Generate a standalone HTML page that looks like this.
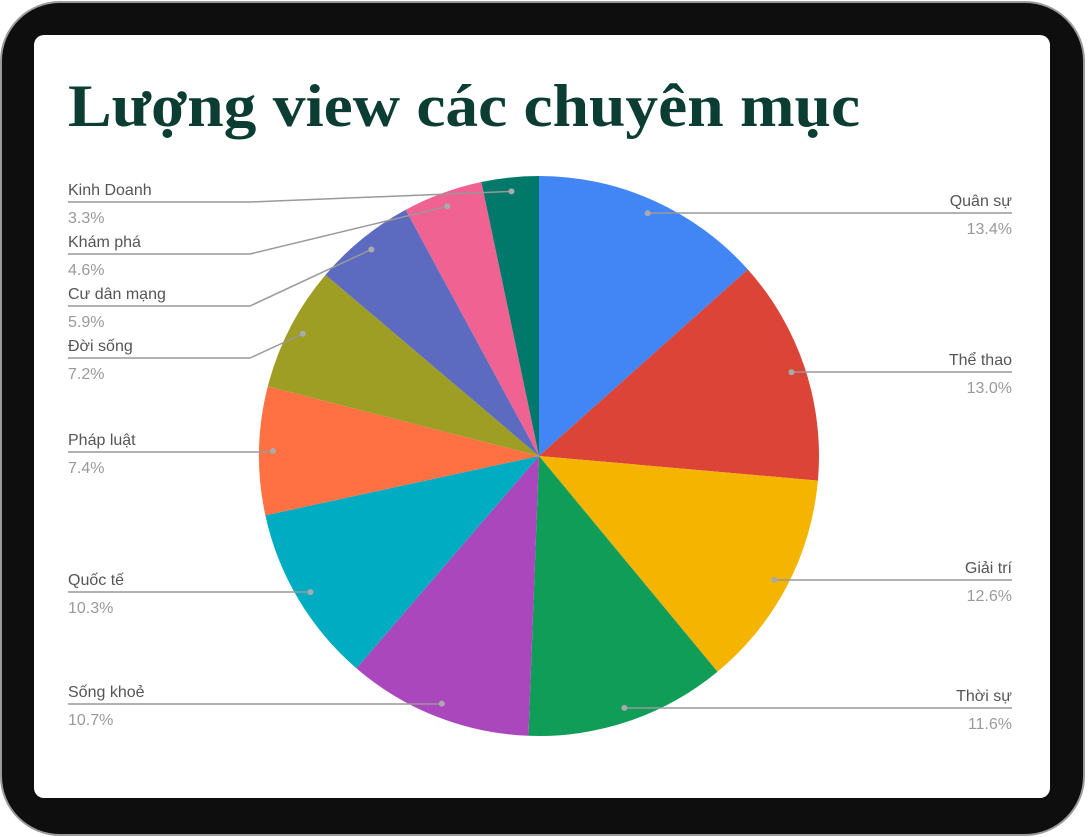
<!DOCTYPE html>
<html><head><meta charset="utf-8">
<style>
html,body{margin:0;padding:0;background:#fff;}
body{width:1088px;height:837px;overflow:hidden;position:relative;}
.frame{position:absolute;left:2px;top:3px;width:1081px;height:831px;border-radius:58px;background:#0e0e0e;box-shadow:0 0 0 2px #9a9a9a;}
.screen{position:absolute;left:34px;top:35px;width:1016px;height:763px;border-radius:10px;background:#fff;overflow:hidden;}
svg{position:absolute;left:0;top:0;}
</style></head>
<body>
<div class="frame"></div>
<div class="screen"></div>
<svg id="chart" width="1088" height="837">
<text x="68" y="126" font-family="'Liberation Serif','Noto Serif CJK SC',serif" font-weight="bold" font-size="60" fill="#0b3d33" textLength="792" lengthAdjust="spacingAndGlyphs">Lượng view các chuyên mục</text>
</svg>
<script>
const categories=["Quân sự","Thể thao","Giải trí","Thời sự","Sống khoẻ","Quốc tế","Pháp luật","Đời sống","Cư dân mạng","Khám phá","Kinh Doanh"];
const values=[13.4,13.0,12.6,11.6,10.7,10.3,7.4,7.2,5.9,4.6,3.3];
const colors=["#4285f4","#db4437","#f4b400","#0f9d58","#ab47bc","#00acc1","#ff7043","#9e9d24","#5c6bc0","#f06292","#00796b"];
const labelY=[213,372,580,708,704,592,452,358,306,254,202];
const svg=document.getElementById('chart');
const NS='http://www.w3.org/2000/svg';
const cx=539,cy=456,R=280,rd=266;
const total=values.reduce((a,b)=>a+b,0);
function pt(a,r){return [cx+r*Math.sin(a),cy-r*Math.cos(a)];}
let acc=0;
const g=document.createElementNS(NS,'g');svg.appendChild(g);
const lg=document.createElementNS(NS,'g');svg.appendChild(lg);
values.forEach((v,i)=>{
  const a0=acc/total*2*Math.PI; acc+=v; const a1=acc/total*2*Math.PI;
  const p0=pt(a0,R),p1=pt(a1,R);
  const large=(a1-a0)>Math.PI?1:0;
  const p=document.createElementNS(NS,'path');
  p.setAttribute('d',`M${cx},${cy}L${p0[0]},${p0[1]}A${R},${R} 0 ${large} 1 ${p1[0]},${p1[1]}Z`);
  p.setAttribute('fill',colors[i]);
  
  
  g.appendChild(p);
  const am=(a0+a1)/2; const d=pt(am,rd);
  const right=Math.sin(am)>0; const ly=labelY[i];
  let pts;
  if(right){pts=`${d[0]},${d[1]} ${Math.max(d[0]+5,d[0])},${ly} 1012,${ly}`;}
  else{const knee=Math.abs(d[1]-ly)<6?d[0]:250; pts=`68,${ly} ${knee},${ly} ${d[0]},${d[1]}`;}
  const pl=document.createElementNS(NS,'polyline');
  pl.setAttribute('points',pts);pl.setAttribute('fill','none');pl.setAttribute('stroke','#999');pl.setAttribute('stroke-width','1.5');
  
  
  lg.appendChild(pl);
  const c=document.createElementNS(NS,'circle');
  c.setAttribute('cx',d[0]);c.setAttribute('cy',d[1]);c.setAttribute('r','3');c.setAttribute('fill','#aaa');
  
  
  lg.appendChild(c);
  const x=right?1012:68, anchor=right?'end':'start';
  const t1=document.createElementNS(NS,'text');
  t1.setAttribute('x',x);t1.setAttribute('y',ly-7);t1.setAttribute('text-anchor',anchor);
  t1.setAttribute('font-family',"'Liberation Sans','Noto Sans CJK SC',sans-serif");t1.setAttribute('font-size','16');t1.setAttribute('fill','#555');
  t1.textContent=categories[i];
  
  
  lg.appendChild(t1);
  const t2=document.createElementNS(NS,'text');
  t2.setAttribute('x',x);t2.setAttribute('y',ly+21);t2.setAttribute('text-anchor',anchor);
  t2.setAttribute('font-family',"'Liberation Sans',sans-serif");t2.setAttribute('font-size','16');t2.setAttribute('fill','#999');
  t2.textContent=v.toFixed(1)+'%';
  
  
  lg.appendChild(t2);
});
</script>
</body></html>
